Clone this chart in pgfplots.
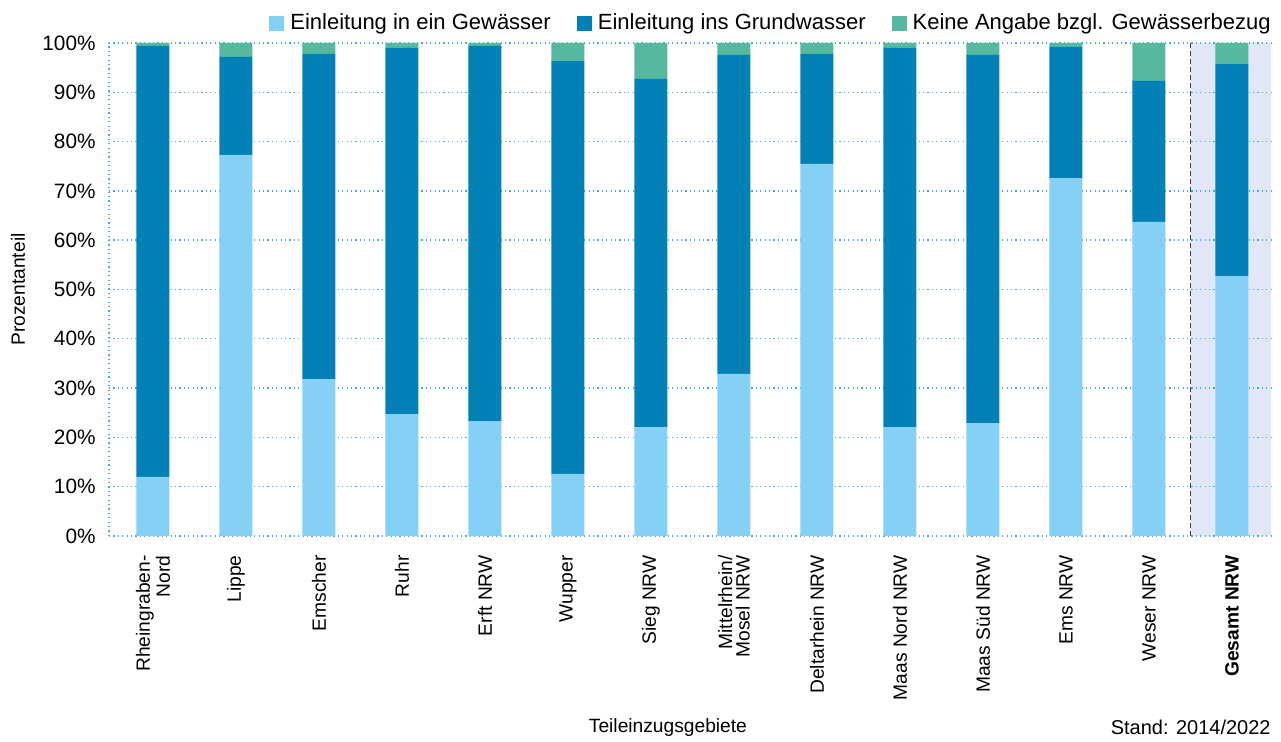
\documentclass[border=0pt]{standalone}
\usepackage{pgfplots}
\pgfplotsset{compat=1.18}
\usepackage{pgfplotstable}
\usepackage{fontspec}
\setmainfont{Liberation Sans}
\definecolor{cLight}{RGB}{133,208,245}
\definecolor{cDark}{RGB}{3,128,182}
\definecolor{cGreen}{RGB}{85,184,159}
\definecolor{cShade}{RGB}{225,231,246}
\definecolor{cGrid}{RGB}{59,176,229}
\pgfplotstableread{
x light dark green
0 12.0 87.4 0.6
1 77.3 19.9 2.8
2 31.8 66.0 2.2
3 24.7 74.3 1.0
4 23.3 76.1 0.6
5 12.6 83.7 3.7
6 22.1 70.6 7.3
7 32.9 64.7 2.4
8 75.5 22.3 2.2
9 22.1 76.9 1.0
10 22.9 74.7 2.4
11 72.6 26.6 0.8
12 63.7 28.6 7.7
13 52.7 43.0 4.3
}\datatable
\pgfplotsset{common/.style={at={(0,0)}, anchor=south west,
  width=581pt, height=246.5pt, scale only axis,
  xmin=-0.53, xmax=13.47, ymin=0, ymax=100}}
\begin{document}
\begin{tikzpicture}
\useasboundingbox (-54.5pt,-103pt) rectangle (586pt,268pt);
\begin{axis}[common, hide axis]
\addplot[fill=cShade, draw=none] coordinates {(12.5,0) (13.47,0) (13.47,100) (12.5,100)} \closedcycle;
\addplot[black!75, line width=0.6pt, dash pattern=on 2.5pt off 1.5pt] coordinates {(12.5,0) (12.5,100)};
\end{axis}
\begin{axis}[
  common,
  clip=false,
  ybar stacked, bar width=16.5pt,
  xtick=data,
  xticklabels={{Rheingraben-\\Nord},Lippe,Emscher,Ruhr,Erft NRW,Wupper,Sieg NRW,{Mittelrhein/\\Mosel NRW},Deltarhein NRW,Maas Nord NRW,Maas Süd NRW,Ems NRW,Weser NRW,\textbf{Gesamt NRW}},
  xticklabel style={rotate=90, anchor=east, align=right, font=\fontsize{9.6}{8.8}\selectfont, inner sep=0pt, xshift=-9.5pt},
  ytick={0,10,...,100},
  yticklabel={\pgfmathprintnumber{\tick}\%},
  /pgf/number format/assume math mode=true,
  yticklabel style={font=\fontsize{10.4}{12}\selectfont, inner sep=0pt, xshift=-6.5pt},
  major tick length=0pt,
  axis lines=left,
  axis line style={-, draw=cGrid, line width=0.7pt, dash pattern=on 0.6pt off 1.6pt},
  ymajorgrids,
  grid style={draw=cGrid, line width=0.7pt, dash pattern=on 0.6pt off 1.6pt},
  ylabel={Prozentanteil},
  ylabel style={at={(axis description cs:-0.0783,0.5)}, anchor=center, font=\fontsize{9.6}{11}\selectfont},
  legend columns=3,
  legend style={at={(axis description cs:1,1)}, anchor=south east, yshift=5pt, draw=none, fill=none, inner sep=0pt,
    nodes={inner sep=0pt},
    font=\fontsize{11}{12}\selectfont,
    /tikz/every odd column/.append style={column sep=3pt},
    /tikz/every even column/.append style={column sep=13pt}},
  legend image code/.code={\fill[#1] (0pt,-3.75pt) rectangle (7.5pt,3.75pt);},
]
\addplot[fill=cLight, draw=none] table[x=x, y=light] {\datatable};
\addplot[fill=cDark, draw=none] table[x=x, y=dark] {\datatable};
\addplot[fill=cGreen, draw=none] table[x=x, y=green] {\datatable};
\legend{Einleitung in ein Gewässer, Einleitung ins Grundwasser, Keine Angabe bzgl. Gewässerbezug}
\node[anchor=center, font=\fontsize{9.6}{11}\selectfont] at (axis description cs:0.481,-0.389) {Teileinzugsgebiete};
\node[anchor=east, font=\fontsize{10}{11}\selectfont, inner sep=0pt] at (axis description cs:1,-0.389) {Stand: 2014/2022};
\end{axis}
\end{tikzpicture}
\end{document}
